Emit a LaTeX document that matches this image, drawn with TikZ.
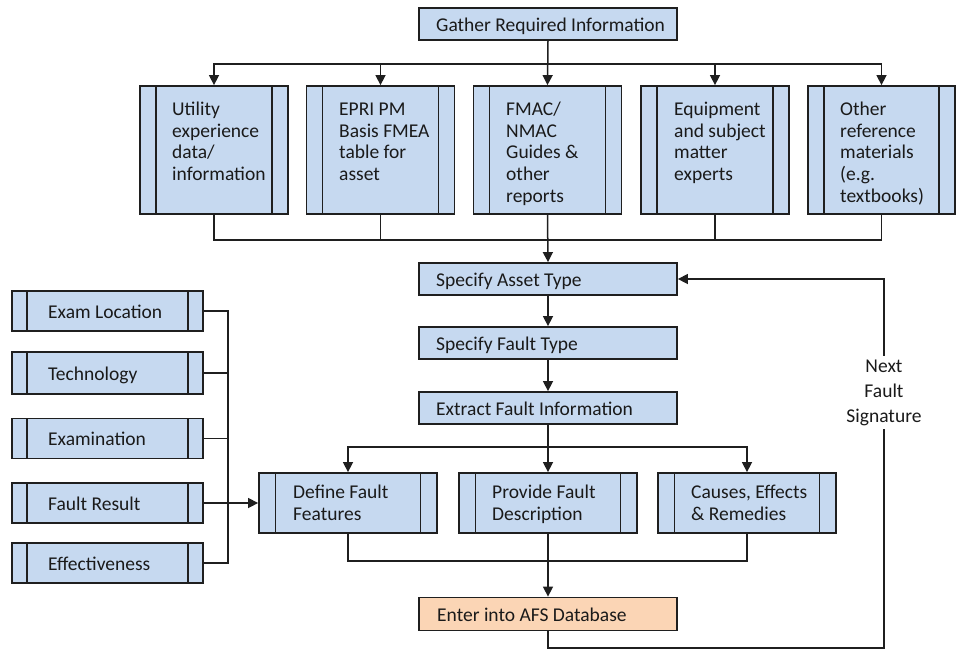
\documentclass[tikz,border=0pt]{standalone}
\usepackage{fontspec}
\setmainfont{Carlito}
\usetikzlibrary{arrows.meta}
\definecolor{boxblue}{HTML}{C6D9F0}
\definecolor{boxorange}{HTML}{FBD5B5}
\definecolor{linec}{HTML}{1F1F1F}
\definecolor{textc}{HTML}{1A1A1A}
\tikzset{
  procbox/.style={draw=linec, line width=1.8pt, fill=boxblue, inner sep=0pt},
  strips/.style={path picture={
     \draw[linec, line width=1.8pt] ([xshift=#1]path picture bounding box.north west) -- ([xshift=#1]path picture bounding box.south west);
     \draw[linec, line width=1.8pt] ([xshift=-#1]path picture bounding box.north east) -- ([xshift=-#1]path picture bounding box.south east);}},
  txtone/.style={anchor=west, inner sep=0pt, text=textc, text height=15.5pt, text depth=1.5pt, font=\fontsize{19.5}{21.7}\selectfont},
  txtmulti/.style={anchor=north west, align=left, inner sep=0pt, text=textc, font=\fontsize{19.5}{21.7}\selectfont},
  conn/.style={draw=linec, line width=1.5pt},
  arr/.style={conn, -{Triangle[length=10pt,width=10pt]}},
}
\begin{document}
\begin{tikzpicture}[x=1pt, y=-1pt]
\useasboundingbox (0,0) rectangle (956,649);

% Gather
\node[procbox, minimum width=258pt, minimum height=32pt] (gather) at (548,24) {};
\node[txtone] (gathertxt) at (436,24) {Gather Required Information};

% top sources
\node[procbox, strips=16pt, minimum width=148pt, minimum height=128pt] (t1) at (214,150) {};
\node[procbox, strips=16pt, minimum width=148pt, minimum height=128pt] (t2) at (380.5,150) {};
\node[procbox, strips=16pt, minimum width=148pt, minimum height=128pt] (t3) at (547.5,150) {};
\node[procbox, strips=16pt, minimum width=148pt, minimum height=128pt] (t4) at (715,150) {};
\node[procbox, strips=16pt, minimum width=147pt, minimum height=128pt] (t5) at (881.5,150) {};
\node[txtmulti] (t1txt) at (172,100) {\strut Utility\\experience\\data/\\information};
\node[txtmulti] (t2txt) at (339,100) {\strut EPRI PM\\Basis FMEA\\table for\\asset};
\node[txtmulti] (t3txt) at (506,100) {\strut FMAC/\\NMAC\\Guides \&\\other\\reports};
\node[txtmulti] (t4txt) at (674,100) {\strut Equipment\\and subject\\matter\\experts};
\node[txtmulti] (t5txt) at (840,100) {\strut Other\\reference\\materials\\(e.g.\\textbooks)};

% main chain
\node[procbox, minimum width=258pt, minimum height=32pt] (asset) at (548,279) {};
\node[txtone] (assettxt) at (436,279) {Specify Asset Type};
\node[procbox, minimum width=258pt, minimum height=32pt] (fault) at (548,343) {};
\node[txtone] (faulttxt) at (436,343) {Specify Fault Type};
\node[procbox, minimum width=258pt, minimum height=32pt] (extract) at (548,408) {};
\node[txtone] (extracttxt) at (436,408) {Extract Fault Information};

% middle boxes
\node[procbox, strips=16.5pt, minimum width=178pt, minimum height=60pt] (m1) at (348,503) {};
\node[procbox, strips=16.5pt, minimum width=178pt, minimum height=60pt] (m2) at (548,503) {};
\node[procbox, strips=16.5pt, minimum width=178pt, minimum height=60pt] (m3) at (747,503) {};
\node[txtmulti] (m1txt) at (293,483) {\strut Define Fault\\Features};
\node[txtmulti] (m2txt) at (492,483) {\strut Provide Fault\\Description};
\node[txtmulti] (m3txt) at (691,483) {\strut Causes, Effects\\\& Remedies};

% left boxes
\node[procbox, strips=15pt, minimum width=191pt, minimum height=40pt] (l1) at (107.5,311) {};
\node[procbox, strips=15pt, minimum width=191pt, minimum height=42pt] (l2) at (107.5,373) {};
\node[procbox, strips=15pt, minimum width=191pt, minimum height=40pt] (l3) at (107.5,438.5) {};
\node[procbox, strips=15pt, minimum width=191pt, minimum height=40pt] (l4) at (107.5,503) {};
\node[procbox, strips=15pt, minimum width=191pt, minimum height=40pt] (l5) at (107.5,563) {};
\node[txtone] (l1txt) at (48,311) {Exam Location};
\node[txtone] (l2txt) at (48,373) {Technology};
\node[txtone] (l3txt) at (48,438.5) {Examination};
\node[txtone] (l4txt) at (48,503) {Fault Result};
\node[txtone] (l5txt) at (48,563) {Effectiveness};

% database
\node[procbox, fill=boxorange, minimum width=258pt, minimum height=33pt] (enter) at (548,614) {};
\node[txtone] (entertxt) at (437,614) {Enter into AFS Database};

% junction coordinates
\coordinate (j1) at (548,64);
\coordinate (j2) at (548,240);
\coordinate (j3) at (548,447);
\coordinate (j4) at (548,561);
\coordinate (j5) at (228,503);
\coordinate (fb1) at (884,648);
\coordinate (fb2) at (884,279);

% gather to sources
\draw[arr] (gather.south) -- (t3.north);
\draw[arr] (j1) -| (t1.north);
\draw[arr] (j1) -| (t2.north);
\draw[arr] (j1) -| (t4.north);
\draw[arr] (j1) -| (t5.north);

% sources to asset
\draw[conn] (t1.south) |- (j2);
\draw[conn] (t2.south) |- (j2);
\draw[conn] (t4.south) |- (j2);
\draw[conn] (t5.south) |- (j2);
\draw[arr] (t3.south) -- (asset.north);

\draw[arr] (asset) -- (fault);
\draw[arr] (fault) -- (extract);

% extract to middle
\draw[conn] (extract.south) -- (j3);
\draw[arr] (j3) -| (m1.north);
\draw[arr] (j3) -- (m2.north);
\draw[arr] (j3) -| (m3.north);

% middle to database
\draw[conn] (m1.south) |- (j4);
\draw[conn] (m3.south) |- (j4);
\draw[arr] (m2.south) -- (enter.north);

% left inputs
\draw[conn] (l1.east) -| (j5);
\draw[conn] (l2.east) -| (j5);
\draw[conn] (l3.east) -| (j5);
\draw[conn] (l5.east) -| (j5);
\draw[arr] (l4.east) -- (m1.west);

% feedback loop
\draw[arr] (enter.south) |- (fb1) -- (fb2) -- (asset.east);
\node[fill=white, align=center, inner xsep=2pt, inner ysep=4pt, text=textc, font=\fontsize{19.5}{25}\selectfont] (nextlbl) at (884,392.5) {Next\\Fault\\Signature};
\end{tikzpicture}
\end{document}
